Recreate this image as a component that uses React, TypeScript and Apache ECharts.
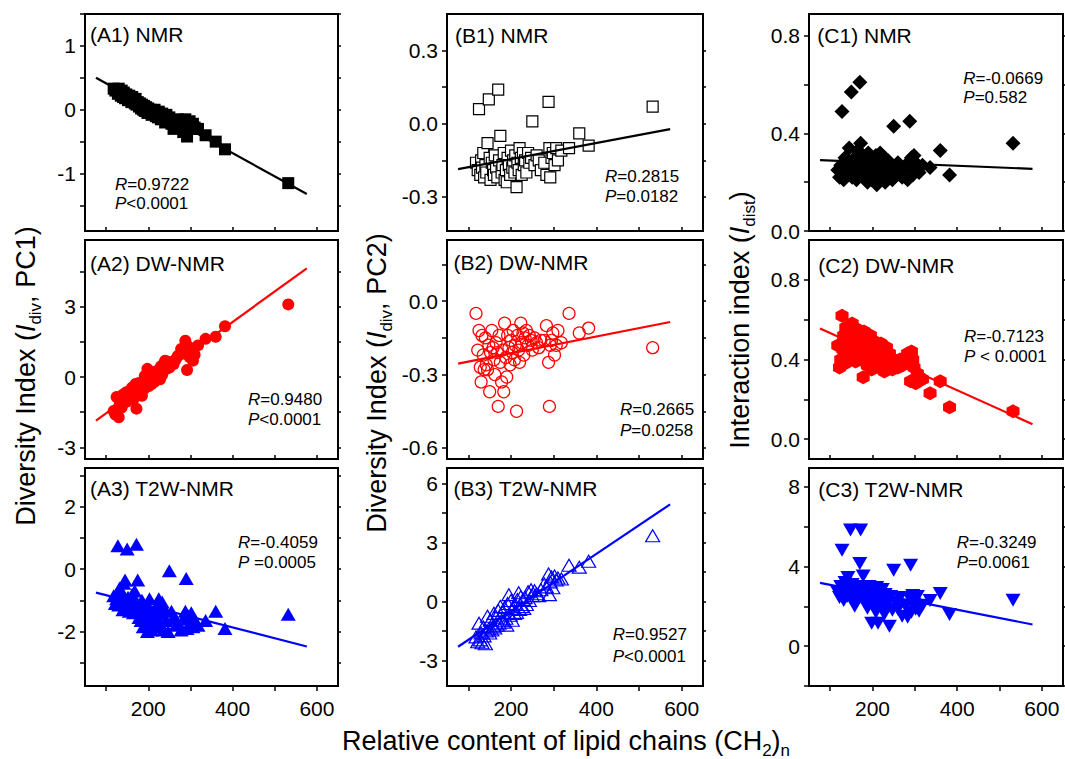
import React, { useEffect, useRef } from "react";
import * as echarts from "echarts";

// Shared x values: relative content of lipid chains (CH2)n
const X_CH2 = [
  118, 122, 125, 128, 130, 132, 135, 137, 140, 142,
  145, 148, 150, 152, 155, 158, 160, 162, 165, 168,
  170, 172, 175, 178, 180, 183, 185, 188, 190, 192,
  195, 198, 200, 203, 205, 208, 210, 213, 215, 218,
  220, 223, 225, 228, 230, 233, 236, 240, 243, 247,
  250, 255, 260, 265, 270, 278, 283, 288, 290, 292,
  295, 298, 302, 306, 310, 318, 336, 360, 382, 532,
];

const Y_A1 = [
  0.33, 0.3, 0.32, 0.25, 0.33, 0.28, 0.22, 0.3, 0.2, 0.27,
  0.18, 0.24, 0.2, 0.15, 0.22, 0.17, 0.12, 0.2, 0.14, 0.1,
  0.17, 0.08, 0.12, 0.05, 0.1, 0.02, 0.08, 0.0, 0.06, -0.02,
  0.04, -0.05, 0.02, -0.04, 0.0, -0.08, -0.02, -0.06, 0.0, -0.1,
  -0.05, -0.12, -0.03, -0.1, -0.15, -0.06, -0.12, -0.2, -0.08, -0.15,
  -0.12, -0.22, -0.3, -0.18, -0.15, -0.22, -0.35, -0.15, -0.2, -0.42,
  -0.25, -0.18, -0.3, -0.22, -0.28, -0.3, -0.4, -0.5, -0.62, -1.15,
];
const Y_A2 = [
  -1.45, -1.6, -0.85, -1.35, -1.72, -1.2, -1.0, -1.3, -0.75, -1.1,
  -0.9, -0.65, -1.05, -0.7, -0.95, -0.55, -0.85, -0.45, -0.95, -0.5,
  -0.3, -1.35, -0.6, -0.25, -0.7, -0.35, -0.8, -0.2, -0.5, 0.05,
  -0.15, 0.35, -0.4, 0.15, -0.1, -0.3, 0.0, 0.2, -0.2, 0.1,
  0.25, -0.05, 0.3, -0.1, 0.45, 0.1, 0.55, 0.7, 0.35, 0.65,
  0.4, 0.6, 0.55, 0.75, 0.9, 1.2, 1.0, 1.55, 1.25, 0.3,
  1.3, 0.85, 1.1, 0.7, 0.95, 1.35, 1.63, 1.72, 2.17, 3.1,
];
const Y_A3 = [
  -0.85, -1.1, -0.95, 0.75, -1.15, -0.6, -1.0, -0.75, -1.3, -0.45,
  -0.35, -1.2, 0.65, -0.9, -1.35, -1.05, -1.25, -0.8, -1.4, -0.7,
  -1.1, 0.8, -0.35, -1.55, -1.2, -1.65, -1.0, -1.85, -1.35, -1.5,
  -1.75, -2.0, -1.2, -0.95, -1.6, -1.95, -1.4, -1.7, -1.3, -1.85,
  -1.55, -1.15, -0.95, -1.75, -1.45, -1.05, -1.95, -1.3, -1.65, -2.0,
  -0.05, -1.35, -1.55, -1.8, -1.7, -1.95, -1.6, -1.35, -0.3, -1.9,
  -1.5, -1.75, -1.4, -1.85, -1.65, -1.8, -1.65, -1.35, -1.9, -1.45,
];
const Y_B1 = [
  -0.16, -0.19, 0.06, -0.21, -0.15, -0.18, -0.12, -0.22, -0.17, -0.2,
  -0.08, 0.1, -0.14, -0.23, -0.16, -0.19, -0.21, -0.13, -0.18, -0.22,
  0.14, -0.15, -0.05, -0.2, -0.17, -0.12, -0.23, -0.19, -0.24, -0.14,
  -0.17, -0.21, -0.11, -0.18, -0.15, -0.2, -0.13, -0.26, -0.16, -0.19,
  -0.1, -0.14, -0.21, -0.12, -0.17, -0.15, -0.2, -0.12, -0.16, -0.14,
  0.01, -0.17, -0.13, -0.15, -0.19, -0.16, -0.21, 0.09, -0.1, -0.22,
  -0.14, -0.12, -0.17, -0.1, -0.15, -0.11, -0.1, -0.04, -0.09, 0.07,
];
const Y_B2 = [
  -0.05, -0.2, -0.12, -0.27, -0.33, -0.14, -0.22, -0.28, -0.15, -0.26,
  -0.28, -0.18, -0.37, -0.21, -0.12, -0.19, -0.24, -0.3, -0.17, -0.21,
  -0.43, -0.14, -0.25, -0.33, -0.2, -0.37, -0.09, -0.23, -0.31, -0.14,
  -0.19, -0.26, -0.16, -0.21, -0.12, -0.24, -0.18, -0.45, -0.14, -0.2,
  -0.25, -0.09, -0.17, -0.13, -0.22, -0.15, -0.12, -0.18, -0.14, -0.16,
  -0.2, -0.15, -0.17, -0.19, -0.16, -0.16, -0.1, -0.25, -0.43, -0.18,
  -0.16, -0.13, -0.22, -0.18, -0.12, -0.17, -0.05, -0.13, -0.11, -0.19,
];
const Y_B3 = [
  -1.8, -2.05, -1.1, -1.95, -1.6, -2.1, -1.3, -1.75, -2.15, -1.5,
  -0.75, -1.4, -1.6, -0.95, -1.45, -1.25, -0.6, -1.35, -0.8, -1.2,
  -0.45, -1.1, -0.25, -0.95, -0.55, -1.05, -0.3, -0.85, -1.2, -0.1,
  0.35, -0.7, 0.05, -0.95, -0.35, -0.6, -0.15, -0.55, 0.1, 0.45,
  -0.4, 0.25, -0.25, 0.1, -0.35, 0.2, -0.15, 0.5, 0.05, 0.6,
  0.3, 0.55, 0.4, 0.3, 0.6, 0.9, 0.75, 1.4, 0.35, 1.0,
  1.25, 0.7, 1.3, 1.1, 1.2, 1.15, 1.85, 1.75, 2.05, 3.35,
];
const Y_C1 = [
  0.25, 0.22, 0.27, 0.49, 0.24, 0.21, 0.3, 0.26, 0.23, 0.28,
  0.34, 0.25, 0.57, 0.22, 0.27, 0.3, 0.24, 0.21, 0.33, 0.28,
  0.61, 0.36, 0.25, 0.31, 0.22, 0.29, 0.26, 0.2, 0.32, 0.24,
  0.28, 0.21, 0.3, 0.26, 0.23, 0.31, 0.19, 0.27, 0.25, 0.32,
  0.22, 0.28, 0.24, 0.3, 0.2, 0.26, 0.29, 0.23, 0.27, 0.21,
  0.43, 0.26, 0.28, 0.24, 0.22, 0.27, 0.21, 0.45, 0.25, 0.3,
  0.23, 0.31, 0.28, 0.26, 0.24, 0.27, 0.26, 0.33, 0.23, 0.36,
];
const Y_C2 = [
  0.47, 0.36, 0.4, 0.62, 0.45, 0.52, 0.38, 0.56, 0.48, 0.43,
  0.55, 0.5, 0.46, 0.58, 0.42, 0.53, 0.39, 0.49, 0.55, 0.44,
  0.52, 0.4, 0.47, 0.31, 0.54, 0.43, 0.5, 0.37, 0.46, 0.41,
  0.52, 0.35, 0.45, 0.4, 0.49, 0.38, 0.44, 0.47, 0.36, 0.42,
  0.48, 0.39, 0.44, 0.34, 0.41, 0.46, 0.37, 0.43, 0.39, 0.35,
  0.4, 0.38, 0.36, 0.4, 0.37, 0.41, 0.43, 0.38, 0.29, 0.44,
  0.4, 0.36, 0.28, 0.33, 0.31, 0.3, 0.23, 0.29, 0.16, 0.14,
];
const Y_C3 = [
  2.7, 2.45, 3.0, 4.82, 2.6, 2.3, 3.2, 2.75, 2.5, 3.45,
  2.9, 5.83, 2.4, 3.1, 2.65, 2.0, 2.85, 3.0, 2.35, 2.7,
  4.15, 5.83, 2.55, 3.53, 2.9, 2.2, 2.75, 1.9, 2.6, 3.0,
  2.3, 1.15, 2.8, 2.1, 2.55, 1.7, 2.95, 1.15, 2.4, 2.7,
  1.95, 2.85, 2.25, 1.6, 2.6, 2.05, 2.35, 1.0, 2.5, 1.8,
  3.82, 2.2, 1.85, 2.45, 1.5, 2.0, 1.45, 2.4, 4.07, 1.7,
  2.55, 2.1, 1.85, 2.5, 1.75, 2.05, 2.3, 2.65, 1.59, 2.31,
];

// Regression line end points [x, y]
const FIT_A1 = [[76, 0.5], [576, -1.32]];
const FIT_A2 = [[76, -1.86], [576, 4.64]];
const FIT_A3 = [[76, -0.75], [576, -2.48]];
const FIT_B1 = [[76, -0.186], [573, -0.022]];
const FIT_B2 = [[76, -0.255], [573, -0.085]];
const FIT_B3 = [[76, -2.3], [573, 4.95]];
const FIT_C1 = [[76, 0.291], [578, 0.255]];
const FIT_C2 = [[76, 0.555], [578, 0.075]];
const FIT_C3 = [[76, 3.18], [578, 1.09]];

const X_TICKS = [100, 200, 300, 400, 500, 600];
const X_LABELS = [200, 400, 600];

const Y_TICKS_A1 = [-1.5, -1, -0.5, 0, 0.5, 1, 1.5];
const Y_LABELS_A1 = [-1, 0, 1];
const Y_TICKS_A2 = [-3, -1.5, 0, 1.5, 3, 4.5];
const Y_LABELS_A2 = [-3, 0, 3];
const Y_TICKS_A3 = [-3, -2, -1, 0, 1, 2, 3];
const Y_LABELS_A3 = [-2, 0, 2];
const Y_TICKS_B1 = [-0.3, -0.15, 0, 0.15, 0.3];
const Y_LABELS_B1 = [-0.3, 0, 0.3];
const Y_TICKS_B2 = [-0.6, -0.45, -0.3, -0.15, 0, 0.15];
const Y_LABELS_B2 = [-0.6, -0.3, 0];
const Y_TICKS_B3 = [-3, -1.5, 0, 1.5, 3, 4.5, 6];
const Y_LABELS_B3 = [-3, 0, 3, 6];
const Y_TICKS_C1 = [0, 0.2, 0.4, 0.6, 0.8];
const Y_LABELS_C1 = [0, 0.4, 0.8];
const Y_TICKS_C2 = [0, 0.2, 0.4, 0.6, 0.8];
const Y_LABELS_C2 = [0, 0.4, 0.8];
const Y_TICKS_C3 = [-2, 0, 2, 4, 6, 8];
const Y_LABELS_C3 = [0, 4, 8];

const TITLES = [
  "(A1) NMR", "(A2) DW-NMR", "(A3) T2W-NMR",
  "(B1) NMR", "(B2) DW-NMR", "(B3) T2W-NMR",
  "(C1) NMR", "(C2) DW-NMR", "(C3) T2W-NMR",
];
const R_TEXT = ["=0.9722", "=0.9480", "=-0.4059", "=0.2815", "=0.2665", "=0.9527", "=-0.0669", "=-0.7123", "=-0.3249"];
const P_TEXT = ["<0.0001", "<0.0001", " =0.0005", "=0.0182", "=0.0258", "<0.0001", "=0.582", " < 0.0001", "=0.0061"];

const FONT = "'Liberation Sans', Arial, Helvetica, sans-serif";
const HEX = "path://M0,-1 L0.866,-0.5 L0.866,0.5 L0,1 L-0.866,0.5 L-0.866,-0.5 Z";

// layout
const COL_LEFT = [85, 447, 809];
const COL_W = [253, 256, 254];
const ROW_TOP = [14, 240, 468];
const ROW_H = [217, 219, 218];

const PANELS = [
  { y: Y_A1, fit: FIT_A1, min: -1.9, max: 1.5, ticks: Y_TICKS_A1, labels: Y_LABELS_A1, dec: 0, color: "#000000", symbol: "rect", size: 12, open: false, title: [90, 34.5], stat: [115, 184, 203] },
  { y: Y_A2, fit: FIT_A2, min: -3.5, max: 5.85, ticks: Y_TICKS_A2, labels: Y_LABELS_A2, dec: 0, color: "#ff0000", symbol: "circle", size: 12, open: false, title: [90, 263.5], stat: [248, 399, 419] },
  { y: Y_A3, fit: FIT_A3, min: -3.75, max: 3.25, ticks: Y_TICKS_A3, labels: Y_LABELS_A3, dec: 0, color: "#0000ff", symbol: "triangle", size: [15, 13], open: false, title: [90, 488.5], stat: [238, 542.5, 562.5] },
  { y: Y_B1, fit: FIT_B1, min: -0.44, max: 0.45, ticks: Y_TICKS_B1, labels: Y_LABELS_B1, dec: 1, color: "#000000", symbol: "rect", size: 11, open: true, title: [455, 35.5], stat: [605, 176, 196.5] },
  { y: Y_B2, fit: FIT_B2, min: -0.645, max: 0.25, ticks: Y_TICKS_B2, labels: Y_LABELS_B2, dec: 1, color: "#ff0000", symbol: "circle", size: 12, open: true, title: [453.5, 262], stat: [620, 409, 430] },
  { y: Y_B3, fit: FIT_B3, min: -4.3, max: 6.8, ticks: Y_TICKS_B3, labels: Y_LABELS_B3, dec: 0, color: "#0000ff", symbol: "triangle", size: [14, 12], open: true, title: [453.5, 488.8], stat: [612.7, 634.5, 656] },
  { y: Y_C1, fit: FIT_C1, min: 0, max: 0.89, ticks: Y_TICKS_C1, labels: Y_LABELS_C1, dec: 1, color: "#000000", symbol: "diamond", size: [15, 15], open: false, title: [817.3, 35.5], stat: [963.3, 78, 97.5] },
  { y: Y_C2, fit: FIT_C2, min: -0.1, max: 1.0, ticks: Y_TICKS_C2, labels: Y_LABELS_C2, dec: 1, color: "#ff0000", symbol: HEX, size: [13, 14], open: false, title: [818.3, 265], stat: [964, 336.3, 356.3] },
  { y: Y_C3, fit: FIT_C3, min: -2, max: 8.95, ticks: Y_TICKS_C3, labels: Y_LABELS_C3, dec: 0, color: "#0000ff", symbol: "triangle", size: [15, 13], open: false, rotate: 180, title: [818.3, 489], stat: [956.7, 542.5, 562.5] },
];

function buildOption() {
  const grid: any[] = [];
  const xAxis: any[] = [];
  const yAxis: any[] = [];
  const series: any[] = [];
  const graphic: any[] = [];

  PANELS.forEach((p, i) => {
    const col = Math.floor(i / 3);
    const row = i % 3;
    const bottom = row === 2;
    grid.push({
      left: COL_LEFT[col], top: ROW_TOP[row], width: COL_W[col], height: ROW_H[row],
      show: true, borderColor: "#000", borderWidth: 2, backgroundColor: "transparent",
      containLabel: false,
    });
    xAxis.push({
      type: "value", gridIndex: i, min: 50, max: 650,
      axisLine: { show: false, onZero: false },
      splitLine: { show: false },
      axisTick: {
        show: true, customValues: X_TICKS, inside: !bottom, length: bottom ? 5 : 4,
        lineStyle: { color: "#000", width: 1.5 },
      },
      axisLabel: {
        show: bottom, customValues: X_LABELS, fontSize: 21, color: "#000", margin: 12, fontFamily: FONT,
      },
    });
    yAxis.push({
      type: "value", gridIndex: i, min: p.min, max: p.max, position: "left",
      axisLine: { show: false, onZero: false },
      splitLine: { show: false },
      axisTick: { show: true, customValues: p.ticks, inside: false, length: 5, lineStyle: { color: "#000", width: 1.5 } },
      axisLabel: {
        show: true, customValues: p.labels, fontSize: 21, color: "#000", margin: 9, fontFamily: FONT,
        formatter: (v: number) => (Math.abs(v) < 1e-9 ? 0 : v).toFixed(p.dec),
      },
    });
    yAxis.push({
      type: "value", gridIndex: i, min: p.min, max: p.max, position: "right",
      axisLine: { show: false, onZero: false },
      splitLine: { show: false },
      axisTick: { show: true, customValues: p.ticks, inside: false, length: 3, lineStyle: { color: "#000", width: 1.5 } },
      axisLabel: { show: false },
    });
    const data = X_CH2.map((x, k) => [x, p.y[k]]);
    series.push({
      type: "scatter", xAxisIndex: i, yAxisIndex: 2 * i, data,
      symbol: p.symbol, symbolSize: p.size, symbolRotate: (p as any).rotate || 0,
      itemStyle: p.open
        ? { color: p.symbol === "rect" ? "#ffffff" : "rgba(255,255,255,0)", borderColor: p.color, borderWidth: 1.2, opacity: 1 }
        : { color: p.color, opacity: 1 },
      z: 2,
    });
    series.push({
      type: "line", xAxisIndex: i, yAxisIndex: 2 * i, data: p.fit,
      symbol: "none", lineStyle: { color: p.color, width: 2.2 }, z: 3, silent: true,
    });
    graphic.push({
      type: "text", x: p.title[0], y: p.title[1], z: 10,
      style: { text: TITLES[i], fontSize: 21, fontFamily: FONT, fill: "#000", align: "left", verticalAlign: "middle" },
    });
    graphic.push({
      type: "text", x: p.stat[0], y: p.stat[1], z: 10,
      style: {
        text: "{i|R}" + R_TEXT[i], fontSize: 17, fontFamily: FONT, fill: "#000", align: "left", verticalAlign: "middle",
        rich: { i: { fontStyle: "italic", fontSize: 17, fontFamily: FONT, fill: "#000" } },
      },
    });
    graphic.push({
      type: "text", x: p.stat[0], y: p.stat[2], z: 10,
      style: {
        text: "{i|P}" + P_TEXT[i], fontSize: 17, fontFamily: FONT, fill: "#000", align: "left", verticalAlign: "middle",
        rich: { i: { fontStyle: "italic", fontSize: 17, fontFamily: FONT, fill: "#000" } },
      },
    });
  });

  const richTitle = {
    it: { fontStyle: "italic", fontSize: 27, lineHeight: 36, fontFamily: FONT, fill: "#000" },
    sub: { fontSize: 17, lineHeight: 17, verticalAlign: "bottom", fontFamily: FONT, fill: "#000" },
  };
  const axisTitle = (text: string, x: number, y: number, rot: number) => ({
    type: "text", x, y, rotation: rot, z: 10,
    style: {
      text, fontSize: 27, lineHeight: 36, fontFamily: FONT, fill: "#000",
      align: "center", verticalAlign: "middle", rich: richTitle,
    },
  });
  graphic.push(axisTitle("Diversity Index ({it|I}{sub|div}, PC1)", 26, 376, Math.PI / 2));
  graphic.push(axisTitle("Diversity Index ({it|I}{sub|div}, PC2)", 377, 383, Math.PI / 2));
  graphic.push(axisTitle("Interaction index ({it|I}{sub|dist})", 740, 320, Math.PI / 2));
  graphic.push(axisTitle("Relative content of lipid chains (CH{sub|2}){sub|n}", 566, 741, 0));

  return {
    animation: false,
    backgroundColor: "#ffffff",
    textStyle: { fontFamily: FONT },
    grid, xAxis, yAxis, series, graphic,
  };
}

export default function App() {
  const ref = useRef<HTMLDivElement>(null);
  useEffect(() => {
    if (!ref.current) return;
    const chart = echarts.init(ref.current, null, { renderer: "svg" });
    chart.setOption(buildOption() as any);
    return () => chart.dispose();
  }, []);
  return (
    <div
      ref={ref}
      style={{ position: "absolute", left: 0, top: 0, width: 1065, height: 759, background: "#fff" }}
    />
  );
}
